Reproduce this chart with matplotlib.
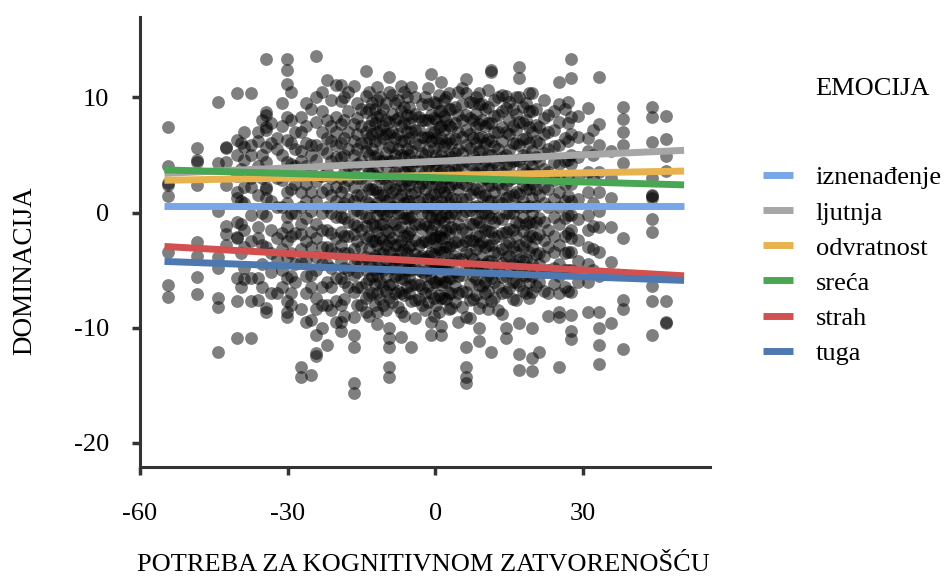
"""Dominacija vs potreba za kognitivnom zatvorenošću, po emocijama."""
import matplotlib
matplotlib.use("Agg")
import matplotlib.pyplot as plt
from matplotlib.lines import Line2D

plt.rcParams.update({
    "font.family": ["Liberation Serif", "DejaVu Serif"],
    "axes.unicode_minus": False,
})

# scatter: NFC score columns and the DOMINACIJA values read in each column
NFC_COLS = [-54.3, -48.4, -44.1, -42.5, -40.3, -38.8, -37.4, -36.0, -34.4, -32.2,
            -30.1, -28.6, -27.3, -25.2, -24.2, -22.0, -20.2, -19.2, -17.8, -16.5,
            -15.2, -14.1, -12.9, -11.8, -10.6, -9.4, -8.2, -7.0, -5.8, -4.9,
            -3.3, -2.1, -0.9, 0.2, 1.2, 2.2, 3.2, 4.6, 6.3, 7.6,
            8.9, 10.1, 11.3, 12.8, 14.4, 15.7, 17.0, 18.4, 19.7, 21.1,
            22.8, 25.2, 26.4, 27.6, 30.9, 33.3, 35.7, 38.0, 43.9, 46.9]

DOM_BY_COL = [
    [7.4, 4.0, 2.4, 2.6, 1.4, -3.4, -6.3, -7.3],
    [5.6, 4.6, 4.4, 2.4, -2.6, -3.8, -5.6, -7.1],
    [9.6, 4.3, 0.1, -3.9, -4.8, -7.4, -8.2, -12.1],
    [5.6, 4.4, 2.4, -1.2, -1.9, -2.8, 5.7],
    [10.4, 6.3, 5.0, 3.2, 1.8, 1.3, -0.8, -2.1, -2.2, -5.7, -7.7, -10.9],
    [7.0, 5.7, 4.6, 2.2, 0.8, -1.5, -3.0, -4.8, -5.8],
    [10.4, 5.9, 5.0, 3.0, 2.2, -0.2, -2.5, -5.7, -7.7, -10.9],
    [7.0, 6.2, 4.0, 1.5, -1.3, -2.2, -5.7, -7.6],
    [13.3, 8.7, 8.5, 7.4, 7.2, 5.7, 4.4, 2.2, 2.0, 1.3, -0.3, -3.0, -8.3, -8.6],
    [6.5, 5.5, 3.0, 0.5, -2.2, -4.0, -7.0],
    [13.3, 12.4, 11.2, 8.3, 6.3, 4.4, 3.5, 1.8, 0.8, -0.4, -1.3, -2.5, -3.9, -5.7, -7.7, -8.6, -9.1],
    [7.0, 5.5, 4.0, 2.5, 0.0, -1.8, -4.5, -6.0],
    [8.3, 7.0, 5.3, 4.5, 1.8, 0.5, -1.0, -1.9, -3.2, -4.3, -8.4, -13.4, -14.3],
    [9.0, 5.9, 5.0, 3.8, 1.8, 0.1, -1.7, -3.0, -5.4, -6.5, -9.3, -14.1],
    [13.6, 10.0, 7.9, 5.9, 4.6, 2.7, 1.0, -1.0, -2.2, -3.9, -5.0, -7.4, -8.4, -10.6, -12.2, -12.5],
    [11.5, 8.0, 6.5, 5.2, 3.5, 2.0, 0.5, -1.5, -3.0, -4.5, -6.0, -8.0, -11.5],
    [11.1, 8.3, 7.0, 5.9, 4.8, 2.2, 1.0, -0.4, -2.2, -3.5, -5.7, -7.7, -9.5],
    [11.1, 9.7, 7.7, 6.0, 4.8, 3.0, 1.8, 0.5, -0.4, -1.7, -2.8, -4.2, -5.7, -8.0, -9.5, -10.3],
    [10.5, 8.8, 7.0, 5.5, 4.0, 2.8, 1.2, -0.8, -2.0, -3.5, -5.0, -6.5],
    [11.0, 7.7, 6.2, 5.0, 3.8, 2.2, 1.0, 0.1, -1.0, -1.9, -3.2, -4.5, -5.4, -6.9, -9.1, -10.6, -11.7, -14.8, -15.7],
    [9.0, 7.5, 6.0, 4.5, 3.0, 1.5, 0.0, -1.5, -3.0, -4.5, -6.5, -8.0],
    [12.3, 10.1, 8.7, 7.0, 6.0, 5.3, 4.0, 2.4, 1.0, -0.4, -1.2, -2.2, -3.9, -5.0, -6.1, -7.4, -8.6],
    [9.5, 8.0, 6.8, 5.5, 3.5, 2.0, 0.5, -1.0, -2.5, -4.0, -5.5, -7.0],
    [10.9, 9.8, 8.3, 7.0, 5.0, 3.8, 1.8, 0.8, -0.2, -1.7, -2.8, -4.0, -5.5, -7.0, -8.6, -9.7],
    [9.0, 7.5, 6.5, 4.5, 3.0, 1.5, 0.0, -1.0, -2.5, -3.5, -5.0, -6.5, -8.0],
    [11.8, 10.5, 7.9, 6.8, 5.7, 4.5, 2.2, 1.2, 0.1, -1.7, -2.5, -3.4, -4.5, -6.3, -7.4, -10.0, -10.9, -11.7, -13.4, -14.3],
    [9.5, 8.0, 6.5, 5.0, 3.5, 2.0, 0.5, -1.0, -2.8, -4.0, -5.5, -7.0],
    [11.0, 8.8, 7.5, 6.2, 5.0, 2.4, 1.5, 0.0, -1.3, -2.5, -3.4, -4.5, -5.7, -7.0, -8.6, -10.8],
    [10.0, 8.5, 7.0, 5.5, 4.0, 2.8, 1.0, -0.5, -2.0, -3.5, -5.0, -6.5],
    [10.9, 8.3, 7.0, 5.3, 4.0, 2.8, 1.6, 0.5, -0.4, -1.5, -2.8, -4.0, -5.0, -6.3, -7.7, -11.7],
    [8.3, 7.2, 5.9, 4.5, 3.0, 2.2, 1.0, -1.0, -2.8, -3.9, -5.0, -6.3, -7.5],
    [10.0, 8.0, 6.5, 5.0, 3.5, 2.0, 0.5, -1.0, -2.5, -4.0, -5.5, -7.0, -8.5],
    [12.0, 8.5, 7.0, 6.2, 4.5, 3.0, 1.5, 0.5, -0.4, -1.5, -2.2, -3.5, -4.5, -5.7, -7.0, -9.5, -10.6],
    [9.5, 8.0, 6.5, 5.0, 3.8, 2.5, 1.0, -0.5, -2.0, -3.0, -4.5, -6.0, -8.0],
    [11.3, 8.8, 7.5, 6.5, 5.0, 3.5, 2.2, 1.0, -0.4, -1.5, -2.2, -3.4, -4.8, -6.3, -7.4, -9.9, -10.6],
    [10.0, 8.0, 6.0, 4.5, 3.0, 1.5, 0.0, -1.5, -3.0, -4.5, -6.0, -7.5],
    [9.0, 7.4, 6.0, 4.8, 3.5, 2.5, 1.3, 0.0, -1.3, -2.8, -4.0, -5.7, -7.0, -8.3],
    [10.5, 8.5, 7.0, 5.5, 4.0, 2.0, 0.5, -1.0, -2.5, -4.0, -5.5, -7.0, -9.5],
    [11.6, 10.4, 8.5, 7.2, 5.9, 4.5, 2.4, 1.2, 0.1, -1.7, -2.5, -3.4, -4.8, -6.9, -9.1, -11.7, -13.4, -14.3, -14.8],
    [9.5, 8.0, 6.5, 5.0, 3.5, 2.0, 0.5, -1.0, -2.5, -4.0, -5.5, -7.5],
    [10.4, 9.4, 7.7, 6.5, 5.3, 3.5, 1.8, 0.5, -0.8, -2.0, -2.8, -4.5, -6.3, -8.3, -10.0, -11.2],
    [9.0, 7.5, 6.0, 4.5, 3.0, 1.5, 0.0, -1.5, -3.0, -4.5, -6.0, -7.0],
    [12.4, 12.2, 7.8, 6.2, 5.0, 3.8, 2.4, 1.0, -0.5, -1.7, -2.8, -4.2, -5.7, -7.7, -12.1],
    [10.0, 8.5, 7.0, 5.5, 4.0, 2.5, 1.0, -0.5, -2.0, -3.5, -5.0, -6.5, -8.5],
    [10.1, 9.1, 7.0, 5.0, 4.0, 2.5, 1.3, 0.0, -1.7, -2.8, -3.9, -5.5, -6.9, -10.0, -10.9],
    [9.0, 7.5, 6.0, 4.5, 3.0, 1.5, 0.0, -1.5, -3.0, -4.5, -6.0, -7.5],
    [12.6, 11.7, 10.0, 7.9, 5.9, 4.5, 3.0, 1.6, 0.5, -1.0, -2.8, -4.0, -5.0, -6.3, -9.6, -12.3, -13.7],
    [9.5, 8.0, 6.5, 5.0, 3.5, 2.0, 0.5, -1.0, -2.5, -4.0, -5.5, -7.0],
    [10.4, 8.8, 7.0, 5.3, 4.0, 2.5, 1.3, 0.0, -1.0, -2.0, -3.0, -4.5, -5.5, -6.9, -10.0, -12.6, -13.8],
    [7.4, 6.0, 4.5, 3.0, 1.5, -0.5, -1.9, -3.5, -4.5, -6.0, -12.1],
    [8.5, 7.0, 5.5, 3.5, 2.0, 0.5, -1.5, -3.0, -5.0, -7.0, -9.0],
    [11.3, 9.4, 7.9, 5.9, 4.2, 3.0, 1.8, 0.5, -1.0, -2.8, -4.5, -5.5, -7.0, -8.6, -9.1, -13.4],
    [9.0, 6.5, 4.5, 2.5, 1.0, -0.5, -2.0, -3.5, -5.0, -6.5],
    [13.3, 11.7, 8.3, 6.8, 5.0, 4.2, 2.5, 1.0, -0.2, -1.5, -2.2, -3.4, -5.0, -6.9, -8.9, -10.3, -11.0],
    [9.1, 6.5, 5.3, 3.5, 1.8, -0.2, -1.5, -3.0, -4.5, -6.0, -8.6],
    [11.8, 7.7, 5.9, 3.5, 1.8, 0.1, -1.3, -3.4, -5.5, -8.6, -10.0, -11.5, -13.2],
    [5.3, 3.0, 1.3, -1.3, -4.3, -9.6],
    [9.2, 8.1, 7.0, 5.9, 4.3, -2.2, -7.6, -8.4, -11.9],
    [9.2, 8.3, 6.1, 3.0, 1.4, 1.5, 1.3, -0.6, -1.7, -6.4, -7.7, -10.6],
    [8.4, 6.4, 4.9, 3.6, -7.7, -9.6, -9.5],
]

# extra columns estimated in the dense core of the cloud
NFC_CORE = [-39.5, -35.2, -33.3, -31.1, -29.3, -26.2, -23.1, -21.1, -18.5, -16.0,
            -13.5, -12.3, -11.2, -10.0, -8.8, -7.6, -6.4, -5.3, -4.1, -2.7,
            -1.5, -0.3, 0.7, 1.7, 2.7, 3.9, 5.4, 7.0, 8.3, 9.5,
            10.7, 12.0, 13.6, 15.0, 16.3, 17.7, 19.0, 20.4, 22.0, 24.0,
            26.9, 29.0, 32.0]

DOM_CORE = [
    [6.0, 3.8, 1.0, -1.0, -3.5, -6.5],
    [8.0, 5.0, 3.0, 0.0, -2.8, -4.5, -6.5],
    [7.8, 6.0, 3.5, 1.0, -1.5, -3.5, -5.2, -7.0],
    [9.5, 7.5, 5.0, 2.8, 0.5, -1.8, -3.2, -5.0, -6.5],
    [10.5, 8.0, 6.0, 4.2, 2.0, 0.0, -2.0, -3.5, -5.5, -7.0, -8.0],
    [9.5, 7.5, 6.0, 4.0, 2.5, 1.0, -0.5, -2.5, -4.0, -5.5, -7.0, -9.5],
    [10.5, 8.8, 7.0, 5.5, 3.2, 1.8, 0.0, -1.5, -3.0, -4.5, -6.5, -8.0, -10.0],
    [9.8, 7.5, 6.2, 4.5, 3.0, 1.5, 0.0, -1.8, -3.2, -4.8, -6.5, -8.5],
    [10.0, 8.0, 6.5, 5.0, 3.5, 2.2, 0.8, -0.5, -2.0, -3.5, -4.8, -6.0, -7.5, -9.0],
    [9.5, 8.2, 6.8, 5.5, 4.2, 3.0, 1.5, 0.2, -1.2, -2.5, -4.0, -5.2, -6.5, -8.0],
    [10.5, 9.0, 7.5, 6.5, 5.0, 3.5, 2.0, 0.8, -0.5, -2.0, -3.2, -4.5, -5.8, -7.2, -9.0],
    [9.0, 7.8, 6.2, 4.8, 3.2, 2.0, 0.5, -1.2, -2.5, -3.8, -5.0, -6.2, -8.0],
    [10.0, 8.5, 7.2, 6.0, 4.5, 3.0, 1.5, 0.2, -1.0, -2.2, -3.5, -4.8, -6.0, -7.5],
    [9.5, 8.0, 6.8, 5.2, 4.0, 2.5, 1.0, -0.2, -1.5, -2.8, -4.2, -5.5, -6.8, -8.5],
    [10.2, 8.6, 7.0, 5.8, 4.5, 3.2, 1.8, 0.5, -0.8, -2.2, -3.5, -4.8, -6.2, -7.8],
    [9.8, 8.2, 6.8, 5.5, 4.0, 2.8, 1.2, 0.0, -1.5, -2.8, -4.0, -5.3, -6.8, -8.2],
    [10.5, 9.2, 7.8, 6.2, 4.8, 3.5, 2.0, 0.8, -0.5, -2.0, -3.2, -4.5, -5.8, -7.2, -9.0],
    [9.2, 7.8, 6.5, 5.0, 3.8, 2.4, 1.0, -0.5, -1.8, -3.0, -4.4, -5.6, -7.0],
    [10.0, 8.6, 7.2, 6.0, 4.5, 3.2, 1.8, 0.4, -1.0, -2.4, -3.6, -4.8, -6.2, -7.6, -9.2],
    [9.4, 8.0, 6.6, 5.2, 4.0, 2.6, 1.2, 0.0, -1.4, -2.6, -3.8, -5.2, -6.6, -8.0],
    [10.8, 9.4, 8.0, 6.6, 5.4, 4.0, 2.6, 1.2, 0.0, -1.2, -2.6, -3.8, -5.0, -6.4, -7.8],
    [9.6, 8.2, 7.0, 5.6, 4.2, 3.0, 1.6, 0.2, -1.0, -2.2, -3.6, -4.8, -6.0, -7.4, -9.0],
    [10.2, 8.8, 7.4, 6.0, 4.6, 3.4, 2.0, 0.6, -0.6, -2.0, -3.2, -4.4, -5.8, -7.2, -8.6],
    [9.8, 8.4, 7.2, 5.8, 4.4, 3.0, 1.8, 0.4, -0.8, -2.2, -3.4, -4.6, -6.0, -7.4],
    [10.4, 9.0, 7.6, 6.4, 5.0, 3.6, 2.2, 0.8, -0.4, -1.8, -3.0, -4.4, -5.6, -7.0, -8.4],
    [9.2, 7.8, 6.4, 5.2, 3.8, 2.6, 1.2, 0.0, -1.4, -2.6, -3.8, -5.2, -6.4, -7.8],
    [10.8, 9.4, 8.0, 6.6, 5.2, 4.0, 2.6, 1.2, -0.2, -1.4, -2.8, -4.0, -5.4, -6.8, -8.2],
    [9.6, 8.2, 6.8, 5.6, 4.2, 3.0, 1.6, 0.2, -1.0, -2.4, -3.6, -4.8, -6.2, -7.6, -9.2],
    [10.0, 8.6, 7.4, 6.0, 4.6, 3.4, 2.0, 0.6, -0.6, -2.0, -3.2, -4.6, -5.8, -7.2],
    [9.4, 8.0, 6.6, 5.4, 4.0, 2.8, 1.4, 0.0, -1.2, -2.6, -3.8, -5.0, -6.4, -7.8],
    [10.6, 9.2, 7.8, 6.4, 5.0, 3.8, 2.4, 1.0, -0.2, -1.6, -2.8, -4.2, -5.4, -6.8, -8.4],
    [9.8, 8.4, 7.0, 5.8, 4.4, 3.2, 1.8, 0.4, -0.8, -2.2, -3.4, -4.6, -6.0, -7.4],
    [10.2, 8.8, 7.4, 6.2, 4.8, 3.4, 2.0, 0.8, -0.6, -1.8, -3.2, -4.4, -5.6, -7.0, -8.8],
    [9.6, 8.0, 6.8, 5.4, 4.0, 2.8, 1.4, 0.0, -1.4, -2.6, -3.8, -5.2, -6.6],
    [10.0, 8.6, 7.2, 6.0, 4.6, 3.2, 1.8, 0.6, -0.8, -2.0, -3.4, -4.6, -6.0, -7.6],
    [9.2, 7.8, 6.4, 5.0, 3.8, 2.4, 1.0, -0.4, -1.6, -3.0, -4.2, -5.4, -6.8],
    [10.4, 8.8, 7.4, 6.0, 4.6, 3.4, 2.0, 0.6, -0.8, -2.0, -3.4, -4.8, -6.0, -7.4],
    [9.0, 7.6, 6.2, 4.8, 3.4, 2.0, 0.6, -0.8, -2.2, -3.6, -5.0, -6.4],
    [9.8, 8.2, 6.8, 5.2, 3.8, 2.2, 0.8, -0.8, -2.4, -3.8, -5.2, -6.8],
    [8.8, 7.2, 5.8, 4.4, 2.8, 1.2, -0.4, -2.0, -3.4, -4.8, -6.2],
    [9.6, 7.8, 6.2, 4.6, 3.0, 1.4, -0.2, -1.8, -3.4, -5.0, -6.8],
    [8.4, 6.6, 4.8, 3.0, 1.2, -0.6, -2.4, -4.2, -6.0],
    [7.2, 5.0, 3.0, 0.8, -1.2, -3.2, -5.0],
]

# regression lines per emotion: value at the left and right end of the range
EMOTIONS = ["iznenađenje", "ljutnja", "odvratnost", "sreća", "strah", "tuga"]
LINE_X = [-55.0, 50.5]
LINE_Y_START = [0.6, 3.4, 2.8, 3.7, -2.95, -4.25]
LINE_Y_END = [0.6, 5.4, 3.6, 2.4, -5.5, -5.9]
COLORS = ["#7aa6e8", "#a6a6a6", "#e8b24f", "#49a653", "#d25050", "#4e79b0"]

SPINE = "#333333"
FS = 19

xs = [x for x, col in zip(NFC_COLS + NFC_CORE, DOM_BY_COL + DOM_CORE) for _ in col]
ys = [y for col in DOM_BY_COL + DOM_CORE for y in col]

fig = plt.figure(figsize=(9.45, 5.8), dpi=100)
ax = fig.add_axes([0.148, 0.195, 0.603, 0.776])

ax.scatter(xs, ys, s=85, color="black", alpha=0.5, linewidths=0, zorder=2)

for name, y0, y1, c in zip(EMOTIONS, LINE_Y_START, LINE_Y_END, COLORS):
    ax.plot(LINE_X, [y0, y1], color=c, linewidth=5, solid_capstyle="butt", zorder=3)

ax.set_xlim(-60, 55.7)
ax.set_ylim(-22.1, 17.0)
ax.set_xticks([-60, -30, 0, 30])
ax.set_yticks([-20, -10, 0, 10])

for s in ["top", "right"]:
    ax.spines[s].set_visible(False)
for s in ["left", "bottom"]:
    ax.spines[s].set_color(SPINE)
    ax.spines[s].set_linewidth(2.2)
ax.tick_params(axis="both", colors=SPINE, length=6, width=2.5, labelsize=FS, labelcolor="black")
ax.tick_params(axis="x", pad=20)
ax.tick_params(axis="y", pad=16)

fig.text(423 / 945, 1 - 565 / 580, "POTREBA ZA KOGNITIVNOM ZATVORENOŠĆU",
         ha="center", va="center", fontsize=19)
fig.text(25 / 945, 1 - 271 / 580, "DOMINACIJA", rotation=90,
         ha="center", va="center", fontsize=19.5)

# legend
fig.text(815 / 945, 1 - 89 / 580, "EMOCIJA", ha="left", va="center", fontsize=FS)
handles = [Line2D([0], [0], color=c, linewidth=5, solid_capstyle="butt") for c in COLORS]
fig.legend(handles, EMOTIONS, loc="upper left", bbox_to_anchor=(763 / 945, 1 - 166 / 580),
           frameon=False, fontsize=FS, handlelength=1.15, handletextpad=0.85,
           labelspacing=0.44, borderpad=0, borderaxespad=0)

fig.savefig("out.png", dpi=100)
